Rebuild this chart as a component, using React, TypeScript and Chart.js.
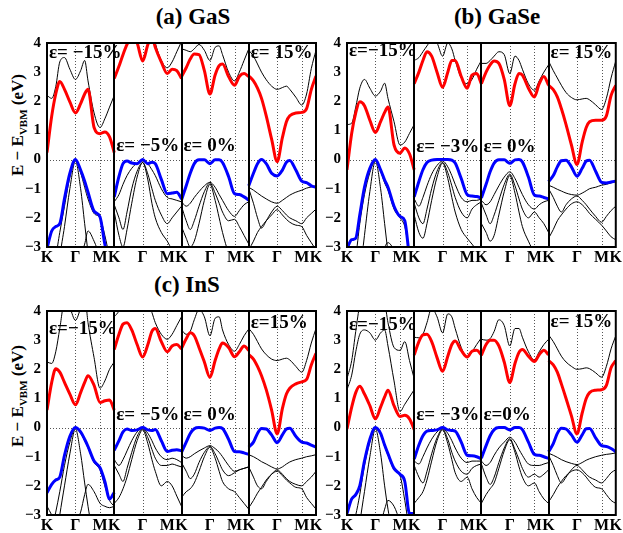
import React, { useEffect, useRef } from "react";
import { Chart, registerables } from "chart.js";
Chart.register(...registerables);

const FONT = "'Liberation Serif', 'Times New Roman', serif";
const GAMMA = 0.4226;
const M_PT = 0.7886;
// k-path sample points inside one K-Γ-M-K segment
const K_PATH = [0, 0.07, 0.13, 0.19, 0.26, 0.34, GAMMA, 0.5, 0.56, 0.61, 0.7, M_PT, 0.86, 0.93, 1];
const X_TICK_LABELS = ["K", "Γ", "M", "K", "Γ", "M", "K", "Γ", "M", "K", "Γ", "M", "K"];
const X_TICK_POS = [0, 1, 2, 3].flatMap((s) => [s, s + GAMMA, s + M_PT]).concat([4]);
const Y_MIN = -3;
const Y_MAX = 4;

// ---------- (a) GaS ----------
const GAS_STRAIN = ["ε= −15%", "ε= −5%", "ε= 0%", "ε= 15%"];
const GAS_LABEL_E = [3.5, 0.29, 0.29, 3.5];
const GAS_RED = [
  [0.24, 1.49, 2.25, 2.68, 2.41, 1.98, 1.6, 1.92, 2.25, 2.41, 1.1, 0.89, 0.95, 0.78, 0.24],
  [2.78, 3.2, 3.6, 3.95, 4.25, 4.0, 3.38, 3.95, 4.25, 3.85, 3.35, 2.95, 3.1, 3.05, 2.78],
  [2.85, 3.15, 3.45, 3.62, 3.6, 3.05, 2.25, 2.9, 3.22, 3.28, 2.85, 2.55, 2.85, 2.95, 2.85],
  [2.87, 2.7, 2.45, 2.1, 1.5, 0.7, -0.07, 0.75, 1.3, 1.5, 1.6, 1.62, 1.75, 2.4, 2.87],
];
const GAS_BLUE = [
  [-3.05, -2.45, -2.3, -2.2, -1.34, -0.47, 0, -0.36, -0.74, -1.12, -1.77, -1.97, -2.9, -3.5, -3.6],
  [-1.28, -0.58, -0.14, -0.05, -0.12, -0.14, 0, -0.14, -0.09, -0.14, -0.68, -1.17, -1.15, -1.12, -1.34],
  [-1.39, -0.9, -0.47, -0.14, -0.01, -0.01, -0.14, -0.01, -0.01, -0.1, -0.58, -1.17, -1.2, -1.28, -1.39],
  [-0.9, -0.47, -0.14, 0, -0.14, -0.47, -0.56, -0.36, -0.09, -0.03, -0.36, -0.74, -0.79, -0.9, -0.95],
];
const GAS_UP = [
  [2.2, 2.1, 2.5, 3.35, 3.5, 3.1, 2.75, 3.05, 3.4, 2.7, 1.6, 1.1, 1.4, 1.8, 2.2],
  [4.05, 4.3, 4.5, 4.5, 4.5, 4.5, 4.5, 4.5, 4.5, 4.0, 3.4, 3.15, 3.35, 3.7, 4.05],
  [3.8, 3.75, 3.7, 3.8, 3.95, 3.75, 3.4, 3.85, 3.9, 3.6, 3.0, 2.7, 3.0, 3.4, 3.8],
  [3.75, 3.55, 3.28, 3.0, 2.74, 2.52, 2.41, 2.47, 2.52, 2.41, 2.14, 1.87, 2.25, 3.12, 3.75],
];
const GAS_LOW1 = [
  [-3.8, -3.6, -3.3, -2.5, -1.6, -0.6, -0.03, -0.45, -0.95, -1.35, -1.85, -2.0, -2.6, -3.3, -3.6],
  [-1.45, -1.2, -0.85, -0.55, -0.3, -0.12, -0.05, -0.15, -0.35, -0.55, -1.0, -1.3, -1.35, -1.4, -1.45],
  [-1.45, -1.6, -1.5, -1.3, -1.1, -0.9, -0.78, -0.95, -1.2, -1.4, -1.75, -1.95, -1.75, -1.55, -1.45],
  [-0.95, -1.05, -1.15, -1.25, -1.35, -1.45, -1.5, -1.4, -1.3, -1.22, -1.12, -1.05, -0.98, -0.94, -0.9],
];
const GAS_LOW2 = [
  [-6, -6, -5, -3.4, -2.3, -1.0, -0.05, -1.0, -2.2, -3.2, -5, -6, -6, -6, -6],
  [-1.55, -2.0, -2.4, -1.8, -1.0, -0.4, -0.1, -0.5, -1.0, -1.4, -1.9, -2.2, -2.0, -1.8, -1.6],
  [-1.6, -2.1, -2.4, -2.1, -1.6, -1.1, -0.8, -1.15, -1.5, -1.8, -2.1, -2.05, -2.3, -2.6, -2.9],
  [-1.0, -1.5, -2.0, -2.35, -2.1, -1.8, -1.6, -1.75, -1.9, -2.0, -2.1, -2.2, -2.0, -1.85, -1.7],
];
const GAS_LOW3 = [
  [-3.5, -3.2, -3.3, -3.6, -3.6, -3.6, -3.6, -3.3, -2.9, -2.45, -2.8, -3.3, -3.5, -3.5, -3.5],
  [-1.8, -2.6, -3.0, -2.4, -1.5, -0.6, -0.1, -0.7, -1.5, -2.0, -2.5, -2.8, -3.1, -3.3, -3.4],
  [-2.3, -2.7, -3.0, -2.8, -2.2, -1.4, -0.85, -1.4, -2.0, -2.5, -3.2, -3.5, -3.6, -3.6, -3.6],
  [-3.1, -2.8, -2.5, -2.3, -2.1, -1.9, -1.72, -1.9, -2.05, -2.15, -2.25, -2.3, -2.6, -2.85, -3.1],
];

// ---------- (b) GaSe ----------
const GASE_STRAIN = ["ε=−15%", "ε= −3%", "ε= 0%", "ε= 15%"];
const GASE_LABEL_E = [3.55, 0.26, 0.26, 3.5];
const GASE_RED = [
  [-0.35, 0.9, 1.6, 1.98, 1.85, 1.35, 0.93, 1.3, 1.62, 1.8, 0.5, 0.22, 0.4, 0.2, -0.35],
  [2.6, 3.0, 3.4, 3.7, 3.55, 3.0, 2.48, 3.0, 3.4, 3.4, 2.85, 2.45, 2.9, 2.95, 2.6],
  [2.6, 3.0, 3.25, 3.38, 3.3, 2.75, 1.85, 2.6, 2.95, 2.9, 2.45, 2.15, 2.6, 2.85, 2.55],
  [2.55, 2.4, 2.15, 1.75, 1.2, 0.5, -0.17, 0.6, 1.1, 1.3, 1.35, 1.35, 1.5, 2.2, 2.55],
];
const GASE_BLUE = [
  [-3.05, -2.75, -2.7, -1.9, -0.95, -0.3, 0, -0.35, -0.7, -0.95, -1.6, -1.95, -2.1, -3.3, -3.6],
  [-1.28, -0.75, -0.35, -0.1, -0.02, 0, 0, 0, -0.02, -0.12, -0.65, -1.2, -1.25, -1.27, -1.32],
  [-1.32, -0.85, -0.42, -0.12, -0.01, -0.01, -0.13, -0.01, 0, -0.08, -0.6, -1.22, -1.25, -1.3, -1.35],
  [-0.76, -0.55, -0.25, -0.04, -0.02, -0.25, -0.57, -0.3, -0.05, -0.02, -0.4, -0.78, -0.8, -0.77, -0.74],
];
const GASE_UP = [
  [1.2, 1.25, 1.8, 2.45, 2.75, 2.45, 2.18, 2.35, 2.62, 2.1, 1.3, 0.5, 0.6, 0.9, 1.2],
  [3.4, 3.5, 3.7, 3.9, 4.1, 4.0, 3.55, 4.0, 3.8, 3.4, 2.8, 2.6, 2.75, 3.1, 3.4],
  [3.3, 3.3, 3.4, 3.55, 3.7, 3.6, 2.95, 3.55, 3.4, 3.1, 2.6, 2.38, 2.7, 3.0, 3.25],
  [3.38, 3.05, 2.8, 2.55, 2.3, 2.13, 2.05, 2.08, 2.1, 2.05, 1.88, 1.72, 2.1, 2.8, 3.38],
];
const GASE_LOW1 = [
  [-3.8, -3.6, -3.3, -2.2, -1.2, -0.45, -0.03, -0.4, -0.8, -1.05, -1.7, -2.0, -2.3, -3.2, -3.6],
  [-1.35, -1.6, -1.3, -0.9, -0.5, -0.2, -0.05, -0.25, -0.55, -0.85, -1.3, -1.45, -1.4, -1.4, -1.35],
  [-1.4, -1.55, -1.45, -1.2, -0.9, -0.6, -0.42, -0.65, -0.95, -1.2, -1.55, -1.7, -1.55, -1.45, -1.4],
  [-0.88, -0.95, -1.02, -1.08, -1.15, -1.2, -1.22, -1.15, -1.07, -1.0, -0.95, -0.88, -0.85, -0.8, -0.75],
];
const GASE_LOW2 = [
  [-6, -6, -5, -4, -2.6, -1.1, -0.05, -1.0, -2.2, -3.2, -5, -6, -6, -6, -6],
  [-1.5, -2.0, -2.2, -1.7, -1.0, -0.4, -0.1, -0.45, -0.9, -1.3, -1.8, -2.0, -1.7, -1.55, -1.45],
  [-1.5, -1.9, -2.2, -1.9, -1.4, -0.85, -0.5, -0.9, -1.35, -1.7, -2.0, -1.8, -2.0, -2.2, -2.5],
  [-1.0, -1.3, -1.6, -1.8, -1.55, -1.35, -1.25, -1.4, -1.55, -1.7, -1.95, -2.15, -1.95, -1.75, -1.6],
];
const GASE_LOW3 = [
  [-3.5, -3.2, -3.3, -3.6, -3.6, -3.6, -3.6, -3.3, -3.0, -2.85, -3.1, -3.5, -3.5, -3.5, -3.5],
  [-1.9, -2.5, -2.7, -2.2, -1.4, -0.6, -0.12, -0.65, -1.3, -1.8, -2.4, -2.7, -2.9, -3.1, -3.2],
  [-2.2, -2.5, -2.8, -2.6, -1.9, -1.1, -0.55, -1.15, -1.8, -2.3, -2.8, -3.2, -3.4, -3.5, -3.5],
  [-2.7, -2.4, -2.1, -1.9, -1.7, -1.52, -1.45, -1.55, -1.7, -1.85, -2.05, -2.25, -2.45, -2.65, -2.75],
];

// ---------- (c) InS ----------
const INS_STRAIN = ["ε=−15%", "ε= −5%", "ε= 0%", "ε=15%"];
const INS_LABEL_E = [3.22, 0.26, 0.26, 3.42];
const INS_RED = [
  [0.6, 1.55, 2.02, 1.9, 1.55, 1.15, 0.78, 1.2, 1.55, 1.78, 1.45, 0.86, 0.92, 0.95, 0.6],
  [2.68, 3.2, 3.55, 3.6, 3.35, 2.85, 2.42, 2.85, 3.3, 3.4, 2.95, 2.6, 2.8, 2.85, 2.7],
  [2.72, 3.05, 3.25, 3.15, 2.75, 2.25, 1.72, 2.3, 2.7, 2.9, 2.75, 2.43, 2.6, 2.8, 2.65],
  [2.5, 2.35, 2.1, 1.78, 1.3, 0.6, -0.22, 0.65, 1.15, 1.35, 1.5, 1.57, 1.65, 2.15, 2.55],
];
const INS_BLUE = [
  [-2.24, -1.95, -1.8, -1.7, -0.95, -0.3, 0, -0.15, -0.4, -0.65, -1.15, -1.38, -1.85, -2.45, -2.22],
  [-0.78, -0.45, -0.15, -0.05, -0.1, -0.08, 0, -0.08, -0.1, -0.07, -0.45, -0.82, -0.78, -0.76, -0.8],
  [-0.85, -0.5, -0.2, -0.04, 0, -0.02, -0.1, -0.02, 0, -0.03, -0.4, -0.82, -0.83, -0.87, -0.92],
  [-0.67, -0.5, -0.2, -0.03, -0.05, -0.25, -0.52, -0.25, -0.05, -0.02, -0.3, -0.5, -0.53, -0.6, -0.67],
];
const INS_UP = [
  [2.25, 2.2, 2.6, 3.4, 4.3, 4.1, 3.68, 4.1, 4.5, 3.6, 2.4, 1.35, 1.6, 2.0, 2.25],
  [3.8, 4.0, 4.3, 4.5, 4.5, 4.5, 4.5, 4.3, 3.95, 3.6, 3.2, 3.03, 3.2, 3.5, 3.8],
  [3.35, 3.2, 3.3, 3.7, 4.05, 3.8, 3.15, 3.75, 3.8, 3.35, 2.85, 2.62, 2.85, 3.15, 3.38],
  [3.4, 3.2, 2.95, 2.7, 2.5, 2.35, 2.3, 2.35, 2.38, 2.32, 2.1, 1.9, 2.3, 2.9, 3.4],
];
const INS_LOW1 = [
  [-3.8, -3.5, -2.9, -2.2, -1.3, -0.5, -0.03, -0.2, -0.45, -0.7, -1.2, -1.45, -2.0, -2.5, -2.7],
  [-1.1, -1.3, -1.1, -0.8, -0.45, -0.15, -0.03, -0.2, -0.45, -0.7, -1.0, -1.1, -1.05, -1.1, -1.2],
  [-0.95, -1.05, -1.0, -0.9, -0.8, -0.7, -0.62, -0.72, -0.85, -1.0, -1.3, -1.5, -1.45, -1.4, -1.35],
  [-0.93, -1.0, -1.08, -1.17, -1.25, -1.35, -1.42, -1.35, -1.25, -1.18, -1.1, -1.05, -1.0, -0.97, -0.93],
];
const INS_LOW2 = [
  [-6, -5, -4, -3.0, -2.0, -0.9, -0.05, -0.9, -1.9, -2.7, -4, -6, -6, -6, -6],
  [-1.3, -1.6, -1.85, -1.4, -0.85, -0.3, -0.05, -0.35, -0.75, -1.05, -1.3, -1.3, -1.25, -1.3, -1.35],
  [-1.2, -1.5, -1.75, -1.6, -1.2, -0.85, -0.65, -0.9, -1.2, -1.45, -1.65, -1.55, -1.45, -1.4, -1.35],
  [-1.35, -1.7, -2.0, -2.1, -1.85, -1.6, -1.45, -1.6, -1.75, -1.85, -1.95, -2.0, -1.85, -1.7, -1.5],
];
const INS_LOW3 = [
  [-2.7, -3.0, -3.3, -3.5, -3.5, -3.5, -3.3, -2.9, -2.3, -1.95, -2.2, -2.6, -2.7, -2.75, -2.7],
  [-2.6, -2.4, -2.1, -1.7, -1.1, -0.45, -0.08, -0.55, -1.1, -1.5, -2.0, -1.85, -2.0, -2.35, -2.7],
  [-2.4, -2.2, -2.1, -1.9, -1.5, -1.0, -0.68, -1.05, -1.5, -1.85, -2.1, -2.2, -2.4, -2.6, -2.8],
  [-2.75, -2.5, -2.25, -2.05, -1.8, -1.6, -1.5, -1.65, -1.8, -1.9, -2.05, -2.1, -2.4, -2.6, -2.8],
];

// ---------- (d) InSe (no title in the figure) ----------
const INSE_STRAIN = ["ε=−15%", "ε= −3%", "ε=0%", "ε= 15%"];
const INSE_LABEL_E = [3.35, 0.26, 0.26, 3.46];
const INSE_RED = [
  [-0.05, 0.7, 1.2, 1.42, 1.15, 0.75, 0.3, 0.7, 1.05, 1.28, 0.75, 0.38, 0.42, 0.3, -0.07],
  [2.49, 2.95, 3.18, 3.2, 2.95, 2.4, 1.93, 2.45, 2.85, 2.97, 2.65, 2.42, 2.62, 2.65, 2.5],
  [2.48, 2.85, 3.0, 3.0, 2.8, 2.25, 1.55, 2.2, 2.58, 2.68, 2.45, 2.27, 2.5, 2.65, 2.5],
  [2.3, 2.15, 1.9, 1.5, 1.0, 0.4, -0.22, 0.5, 1.0, 1.2, 1.28, 1.3, 1.45, 2.05, 2.3],
];
const INSE_BLUE = [
  [-2.95, -2.45, -2.3, -2.0, -1.15, -0.4, 0, -0.2, -0.6, -0.9, -1.4, -1.6, -1.85, -2.95, -2.95],
  [-1.08, -0.6, -0.28, -0.12, -0.1, -0.08, 0, -0.08, -0.1, -0.12, -0.5, -0.95, -0.97, -1.0, -1.07],
  [-1.05, -0.62, -0.28, -0.07, 0, 0, -0.08, 0, 0, -0.07, -0.5, -0.92, -0.95, -1.0, -1.06],
  [-0.83, -0.55, -0.2, -0.02, -0.05, -0.25, -0.5, -0.25, -0.04, -0.03, -0.35, -0.62, -0.65, -0.72, -0.83],
];
const INSE_UP = [
  [1.3, 1.8, 2.6, 3.2, 3.35, 3.25, 3.0, 3.25, 3.35, 2.8, 1.6, 0.55, 0.8, 1.05, 1.3],
  [3.1, 3.08, 3.2, 3.6, 4.1, 3.8, 3.25, 3.9, 3.8, 3.4, 2.75, 2.4, 2.6, 2.85, 3.08],
  [3.03, 3.0, 3.05, 3.3, 3.7, 3.5, 2.8, 3.4, 3.4, 3.1, 2.6, 2.32, 2.6, 2.85, 3.03],
  [3.18, 2.95, 2.7, 2.45, 2.25, 2.1, 2.0, 2.02, 2.05, 2.02, 1.88, 1.73, 2.1, 2.7, 3.15],
];
const INSE_UP2 = [
  [1.68, 2.3, 3.3, 4.2, 4.5, 4.5, 4.5, 4.5, 4.3, 3.6, 2.75, 2.65, 2.95, 2.3, 1.68],
  null,
  null,
  null,
];
const INSE_LOW1 = [
  [-3.8, -3.5, -3.0, -2.3, -1.3, -0.5, -0.03, -0.25, -0.65, -0.95, -1.45, -1.65, -2.5, -3.5, -3.8],
  [-1.15, -1.25, -1.0, -0.7, -0.4, -0.15, -0.03, -0.2, -0.45, -0.7, -1.05, -1.2, -1.15, -1.15, -1.15],
  [-1.15, -1.3, -1.2, -0.95, -0.7, -0.5, -0.33, -0.5, -0.75, -0.95, -1.25, -1.3, -1.3, -1.25, -1.2],
  [-0.88, -0.95, -1.02, -1.1, -1.17, -1.23, -1.27, -1.2, -1.12, -1.07, -1.0, -0.95, -0.92, -0.9, -0.87],
];
const INSE_LOW2 = [
  [-6, -6, -4.5, -3.3, -2.2, -1.0, -0.05, -0.9, -2.0, -2.8, -4, -6, -6, -6, -6],
  [-1.3, -1.7, -1.9, -1.5, -0.9, -0.35, -0.05, -0.4, -0.85, -1.15, -1.5, -1.6, -1.4, -1.3, -1.25],
  [-1.25, -1.7, -1.95, -1.7, -1.2, -0.7, -0.38, -0.75, -1.1, -1.4, -1.7, -1.6, -1.7, -1.6, -1.45],
  [-0.95, -1.3, -1.65, -1.9, -1.7, -1.45, -1.3, -1.45, -1.6, -1.7, -1.8, -1.9, -1.75, -1.55, -1.45],
];
const INSE_LOW3 = [
  [-3.5, -3.2, -3.3, -3.6, -3.6, -3.6, -3.6, -3.3, -2.8, -2.5, -2.7, -3.2, -3.5, -3.5, -3.5],
  [-2.6, -2.4, -2.2, -1.8, -1.15, -0.45, -0.08, -0.55, -1.1, -1.55, -1.85, -1.7, -2.1, -2.4, -2.6],
  [-2.6, -2.3, -2.1, -1.9, -1.4, -0.8, -0.42, -0.85, -1.35, -1.7, -2.0, -1.9, -2.2, -2.45, -2.6],
  [-2.55, -2.3, -2.05, -1.85, -1.65, -1.5, -1.45, -1.55, -1.7, -1.85, -2.05, -2.1, -2.3, -2.5, -2.6],
];

type Series = ((number | null)[] | null)[];

interface PanelProps {
  plotLeft: number;
  plotTop: number;
  plotW: number;
  plotH: number;
  padRight: number;
  red: Series;
  blue: Series;
  black: Series[];
  strains: string[];
  labelE: number[];
}

const Y_AXIS_W = 40;
const X_AXIS_H = 22;
const PAD_TOP = 4;

function bandSets(series: Series, color: string, width: number, order: number) {
  const out: any[] = [];
  series.forEach((vals, s) => {
    if (!vals) return;
    out.push({
      data: K_PATH.map((k, i) => ({ x: s + k, y: vals[i] })),
      borderColor: color,
      borderWidth: width,
      pointRadius: 0,
      pointHoverRadius: 0,
      fill: false,
      cubicInterpolationMode: "monotone",
      clip: 0,
      order,
      spanGaps: false,
    });
  });
  return out;
}

const framePlugin = {
  id: "bandFrame",
  beforeDatasetsDraw(chart: any) {
    const { ctx, chartArea: ca, scales } = chart;
    const x = scales.x;
    const y = scales.y;
    ctx.save();
    ctx.strokeStyle = "#555";
    ctx.lineWidth = 1;
    ctx.setLineDash([1, 2]);
    ctx.beginPath();
    for (let s = 0; s < 4; s++) {
      for (const k of [GAMMA, M_PT]) {
        const px = Math.round(x.getPixelForValue(s + k)) + 0.5;
        ctx.moveTo(px, ca.top);
        ctx.lineTo(px, ca.bottom);
      }
    }
    const py = Math.round(y.getPixelForValue(0)) + 0.5;
    ctx.moveTo(ca.left, py);
    ctx.lineTo(ca.right, py);
    ctx.stroke();
    ctx.restore();
  },
  afterDatasetsDraw(chart: any, _args: any, opts: any) {
    const { ctx, chartArea: ca, scales } = chart;
    const x = scales.x;
    const y = scales.y;
    ctx.save();
    ctx.strokeStyle = "#000";
    ctx.lineWidth = 2;
    ctx.setLineDash([]);
    ctx.beginPath();
    for (let s = 1; s < 4; s++) {
      const px = Math.round(x.getPixelForValue(s));
      ctx.moveTo(px, ca.top);
      ctx.lineTo(px, ca.bottom);
    }
    ctx.stroke();
    ctx.strokeRect(ca.left, ca.top, ca.right - ca.left, ca.bottom - ca.top);
    const labels: string[] = opts.labels || [];
    const labelE: number[] = opts.labelE || [];
    ctx.fillStyle = "#000";
    ctx.font = `bold 19px ${FONT}`;
    ctx.textAlign = "left";
    ctx.textBaseline = "alphabetic";
    labels.forEach((t, s) => {
      ctx.fillText(t, x.getPixelForValue(s) + 2, y.getPixelForValue(labelE[s]));
    });
    ctx.restore();
  },
};

function Panel(p: PanelProps) {
  const ref = useRef<HTMLCanvasElement>(null);
  const W = Y_AXIS_W + p.plotW + p.padRight;
  const H = PAD_TOP + p.plotH + X_AXIS_H;
  useEffect(() => {
    if (!ref.current) return;
    const datasets = [
      ...bandSets(p.red, "#ff0000", 3, 0),
      ...bandSets(p.blue, "#0000ff", 3, 0),
      ...p.black.flatMap((b) => bandSets(b, "#000000", 1, 1)),
    ];
    const chart = new Chart(ref.current, {
      type: "line",
      data: { datasets },
      plugins: [framePlugin as any],
      options: {
        animation: false,
        responsive: false,
        devicePixelRatio: 1,
        events: [],
        layout: { padding: { top: PAD_TOP, right: p.padRight, left: 0, bottom: 0 } },
        elements: { line: { capBezierPoints: false }, point: { radius: 0 } },
        plugins: {
          legend: { display: false },
          tooltip: { enabled: false },
          bandFrame: { labels: p.strains, labelE: p.labelE },
        } as any,
        scales: {
          x: {
            type: "linear",
            min: 0,
            max: 4,
            grid: { display: false, drawTicks: false },
            border: { display: false },
            afterBuildTicks: (s: any) => {
              s.ticks = X_TICK_POS.map((v) => ({ value: v }));
            },
            afterFit: (s: any) => {
              s.height = X_AXIS_H;
            },
            ticks: {
              autoSkip: false,
              maxRotation: 0,
              minRotation: 0,
              padding: 1,
              color: "#000",
              font: { family: FONT, size: 16, weight: "bold" },
              callback: (_v: any, i: number) => X_TICK_LABELS[i],
            },
          },
          y: {
            type: "linear",
            min: Y_MIN,
            max: Y_MAX,
            grid: { display: false, drawTicks: false },
            border: { display: false },
            afterFit: (s: any) => {
              s.width = Y_AXIS_W;
            },
            ticks: {
              stepSize: 1,
              padding: 6,
              color: "#000",
              font: { family: FONT, size: 15, weight: "bold" },
              callback: (v: any) => String(v).replace("-", "−"),
            },
          },
        },
      } as any,
    });
    return () => chart.destroy();
  }, []);
  return (
    <canvas
      ref={ref}
      width={W}
      height={H}
      style={{
        position: "absolute",
        left: p.plotLeft - Y_AXIS_W,
        top: p.plotTop - PAD_TOP,
        width: W,
        height: H,
      }}
    />
  );
}

const titleStyle = (cx: number, top: number): React.CSSProperties => ({
  position: "absolute",
  left: cx,
  top,
  transform: "translateX(-50%)",
  font: `bold 23px ${FONT}`,
  lineHeight: "23px",
  whiteSpace: "nowrap",
  color: "#000",
});

function YTitle({ cy }: { cy: number }) {
  return (
    <div
      style={{
        position: "absolute",
        left: 18,
        top: cy,
        transform: "translate(-50%, -50%) rotate(-90deg)",
        font: `bold 17px ${FONT}`,
        lineHeight: "20px",
        whiteSpace: "nowrap",
        color: "#000",
      }}
    >
      E − E<sub style={{ fontSize: 11, verticalAlign: "-4px", lineHeight: 0 }}>VBM</sub> (eV)
    </div>
  );
}

export default function App() {
  return (
    <div
      style={{
        position: "absolute",
        left: 0,
        top: 0,
        width: 623,
        height: 533,
        background: "#fff",
        overflow: "hidden",
      }}
    >
      <div style={titleStyle(193, 5)}>(a) GaS</div>
      <div style={titleStyle(497, 5)}>(b) GaSe</div>
      <div style={titleStyle(187, 273)}>(c) InS</div>
      <YTitle cy={125} />
      <YTitle cy={396} />
      <Panel
        plotLeft={47}
        plotTop={32}
        plotW={269}
        plotH={215}
        padRight={8}
        red={GAS_RED}
        blue={GAS_BLUE}
        black={[GAS_UP, GAS_LOW1, GAS_LOW2, GAS_LOW3]}
        strains={GAS_STRAIN}
        labelE={GAS_LABEL_E}
      />
      <Panel
        plotLeft={347}
        plotTop={32}
        plotW={271}
        plotH={215}
        padRight={5}
        red={GASE_RED}
        blue={GASE_BLUE}
        black={[GASE_UP, GASE_LOW1, GASE_LOW2, GASE_LOW3]}
        strains={GASE_STRAIN}
        labelE={GASE_LABEL_E}
      />
      <Panel
        plotLeft={47}
        plotTop={300}
        plotW={269}
        plotH={215}
        padRight={8}
        red={INS_RED}
        blue={INS_BLUE}
        black={[INS_UP, INS_LOW1, INS_LOW2, INS_LOW3]}
        strains={INS_STRAIN}
        labelE={INS_LABEL_E}
      />
      <Panel
        plotLeft={347}
        plotTop={300}
        plotW={271}
        plotH={215}
        padRight={5}
        red={INSE_RED}
        blue={INSE_BLUE}
        black={[INSE_UP, INSE_UP2, INSE_LOW1, INSE_LOW2, INSE_LOW3]}
        strains={INSE_STRAIN}
        labelE={INSE_LABEL_E}
      />
    </div>
  );
}
